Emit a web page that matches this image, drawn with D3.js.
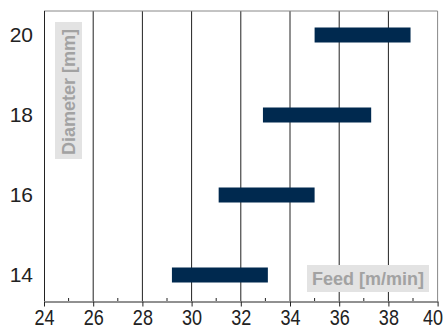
<!DOCTYPE html>
<html>
<head>
<meta charset="utf-8">
<script src="https://cdn.jsdelivr.net/npm/d3@7"></script>
<style>
  html, body { margin: 0; padding: 0; background: #fff; }
  svg { display: block; }
</style>
</head>
<body>
<svg id="chart" width="444" height="329"></svg>
<script>
// Feed range per drill diameter
const diameters = [14, 16, 18, 20];
const feedMin = [29.2, 31.1, 32.9, 35.0];
const feedMax = [33.1, 35.0, 37.3, 38.9];
const xTicks = [24, 26, 28, 30, 32, 34, 36, 38, 40];
const xMinorTicks = [25, 27, 29, 31, 33, 35, 37, 39];
const yTicks = [14, 16, 18, 20];

const svg = d3.select("#chart");
const plotL = 44, plotR = 437.6, plotT = 11, plotB = 301;

const x = d3.scaleLinear().domain([24, 40]).range([plotL, plotR]);
const y = d3.scaleLinear().domain([13.35, 20.6]).range([plotB, plotT]);

// vertical grid lines
svg.append("g")
  .selectAll("line")
  .data(xTicks.slice(1, -1))
  .join("line")
  .attr("x1", d => x(d)).attr("x2", d => x(d))
  .attr("y1", plotT).attr("y2", plotB)
  .attr("stroke", "#222").attr("stroke-width", 1);

// frame: top and right in grey
svg.append("line").attr("x1", plotL).attr("x2", plotR).attr("y1", plotT).attr("y2", plotT)
  .attr("stroke", "#888").attr("stroke-width", 1);
svg.append("line").attr("x1", plotR).attr("x2", plotR).attr("y1", plotT).attr("y2", plotB)
  .attr("stroke", "#888").attr("stroke-width", 1);
svg.append("line").attr("x1", plotL + 0.5).attr("x2", plotL + 0.5).attr("y1", plotT).attr("y2", plotB)
  .attr("stroke", "#222").attr("stroke-width", 1);

// bars
const rows = diameters.map((d, i) => ({ d, lo: feedMin[i], hi: feedMax[i] }));
svg.append("g")
  .selectAll("rect")
  .data(rows)
  .join("rect")
  .attr("x", r => x(r.lo))
  .attr("width", r => x(r.hi) - x(r.lo))
  .attr("y", r => y(r.d) - 7.5)
  .attr("height", 15)
  .attr("fill", "#00294f");

// x axis
const xAxis = svg.append("g").attr("transform", `translate(0,${plotB + 0.5})`)
  .call(d3.axisBottom(x).tickValues(xTicks).tickSize(5).tickSizeOuter(0).tickPadding(3));
xAxis.select(".domain").attr("stroke", "#222");
xAxis.selectAll(".tick line").attr("stroke", "#222");
// condensed tick labels; the last one is nudged inward to stay on the canvas
xAxis.selectAll("text")
  .attr("font-family", "'Liberation Sans', Arial, sans-serif")
  .attr("font-size", 22).attr("fill", "#222")
  .attr("transform", d => `translate(${d === 40 ? -5 : 0},0) scale(0.82,1)`);

// minor ticks, pointing up into the plot
svg.append("g")
  .selectAll("line")
  .data(xMinorTicks)
  .join("line")
  .attr("x1", d => x(d)).attr("x2", d => x(d))
  .attr("y1", plotB).attr("y2", plotB - 3)
  .attr("stroke", "#222");

// y axis labels
const yAxis = svg.append("g").attr("transform", `translate(${plotL},0)`)
  .call(d3.axisLeft(y).tickValues(yTicks).tickSize(0).tickPadding(11));
yAxis.select(".domain").remove();
yAxis.selectAll("text")
  .attr("font-family", "'Liberation Sans', Arial, sans-serif")
  .attr("font-size", 21).attr("fill", "#222");

// axis title boxes
const titleFont = "'Liberation Sans', Arial, sans-serif";
svg.append("rect").attr("x", 307).attr("y", 265).attr("width", 122).attr("height", 27).attr("fill", "#e3e3e3");
svg.append("text").attr("x", 368).attr("y", 285)
  .attr("text-anchor", "middle")
  .attr("font-family", titleFont).attr("font-weight", "bold").attr("font-size", 18)
  .attr("fill", "#a2a2a2").text("Feed [m/min]");

svg.append("rect").attr("x", 55).attr("y", 22).attr("width", 27).attr("height", 137).attr("fill", "#e3e3e3");
svg.append("text")
  .attr("transform", "translate(75,92) rotate(-90)")
  .attr("text-anchor", "middle")
  .attr("font-family", titleFont).attr("font-weight", "bold").attr("font-size", 18)
  .attr("fill", "#a2a2a2").text("Diameter [mm]");
</script>
</body>
</html>
